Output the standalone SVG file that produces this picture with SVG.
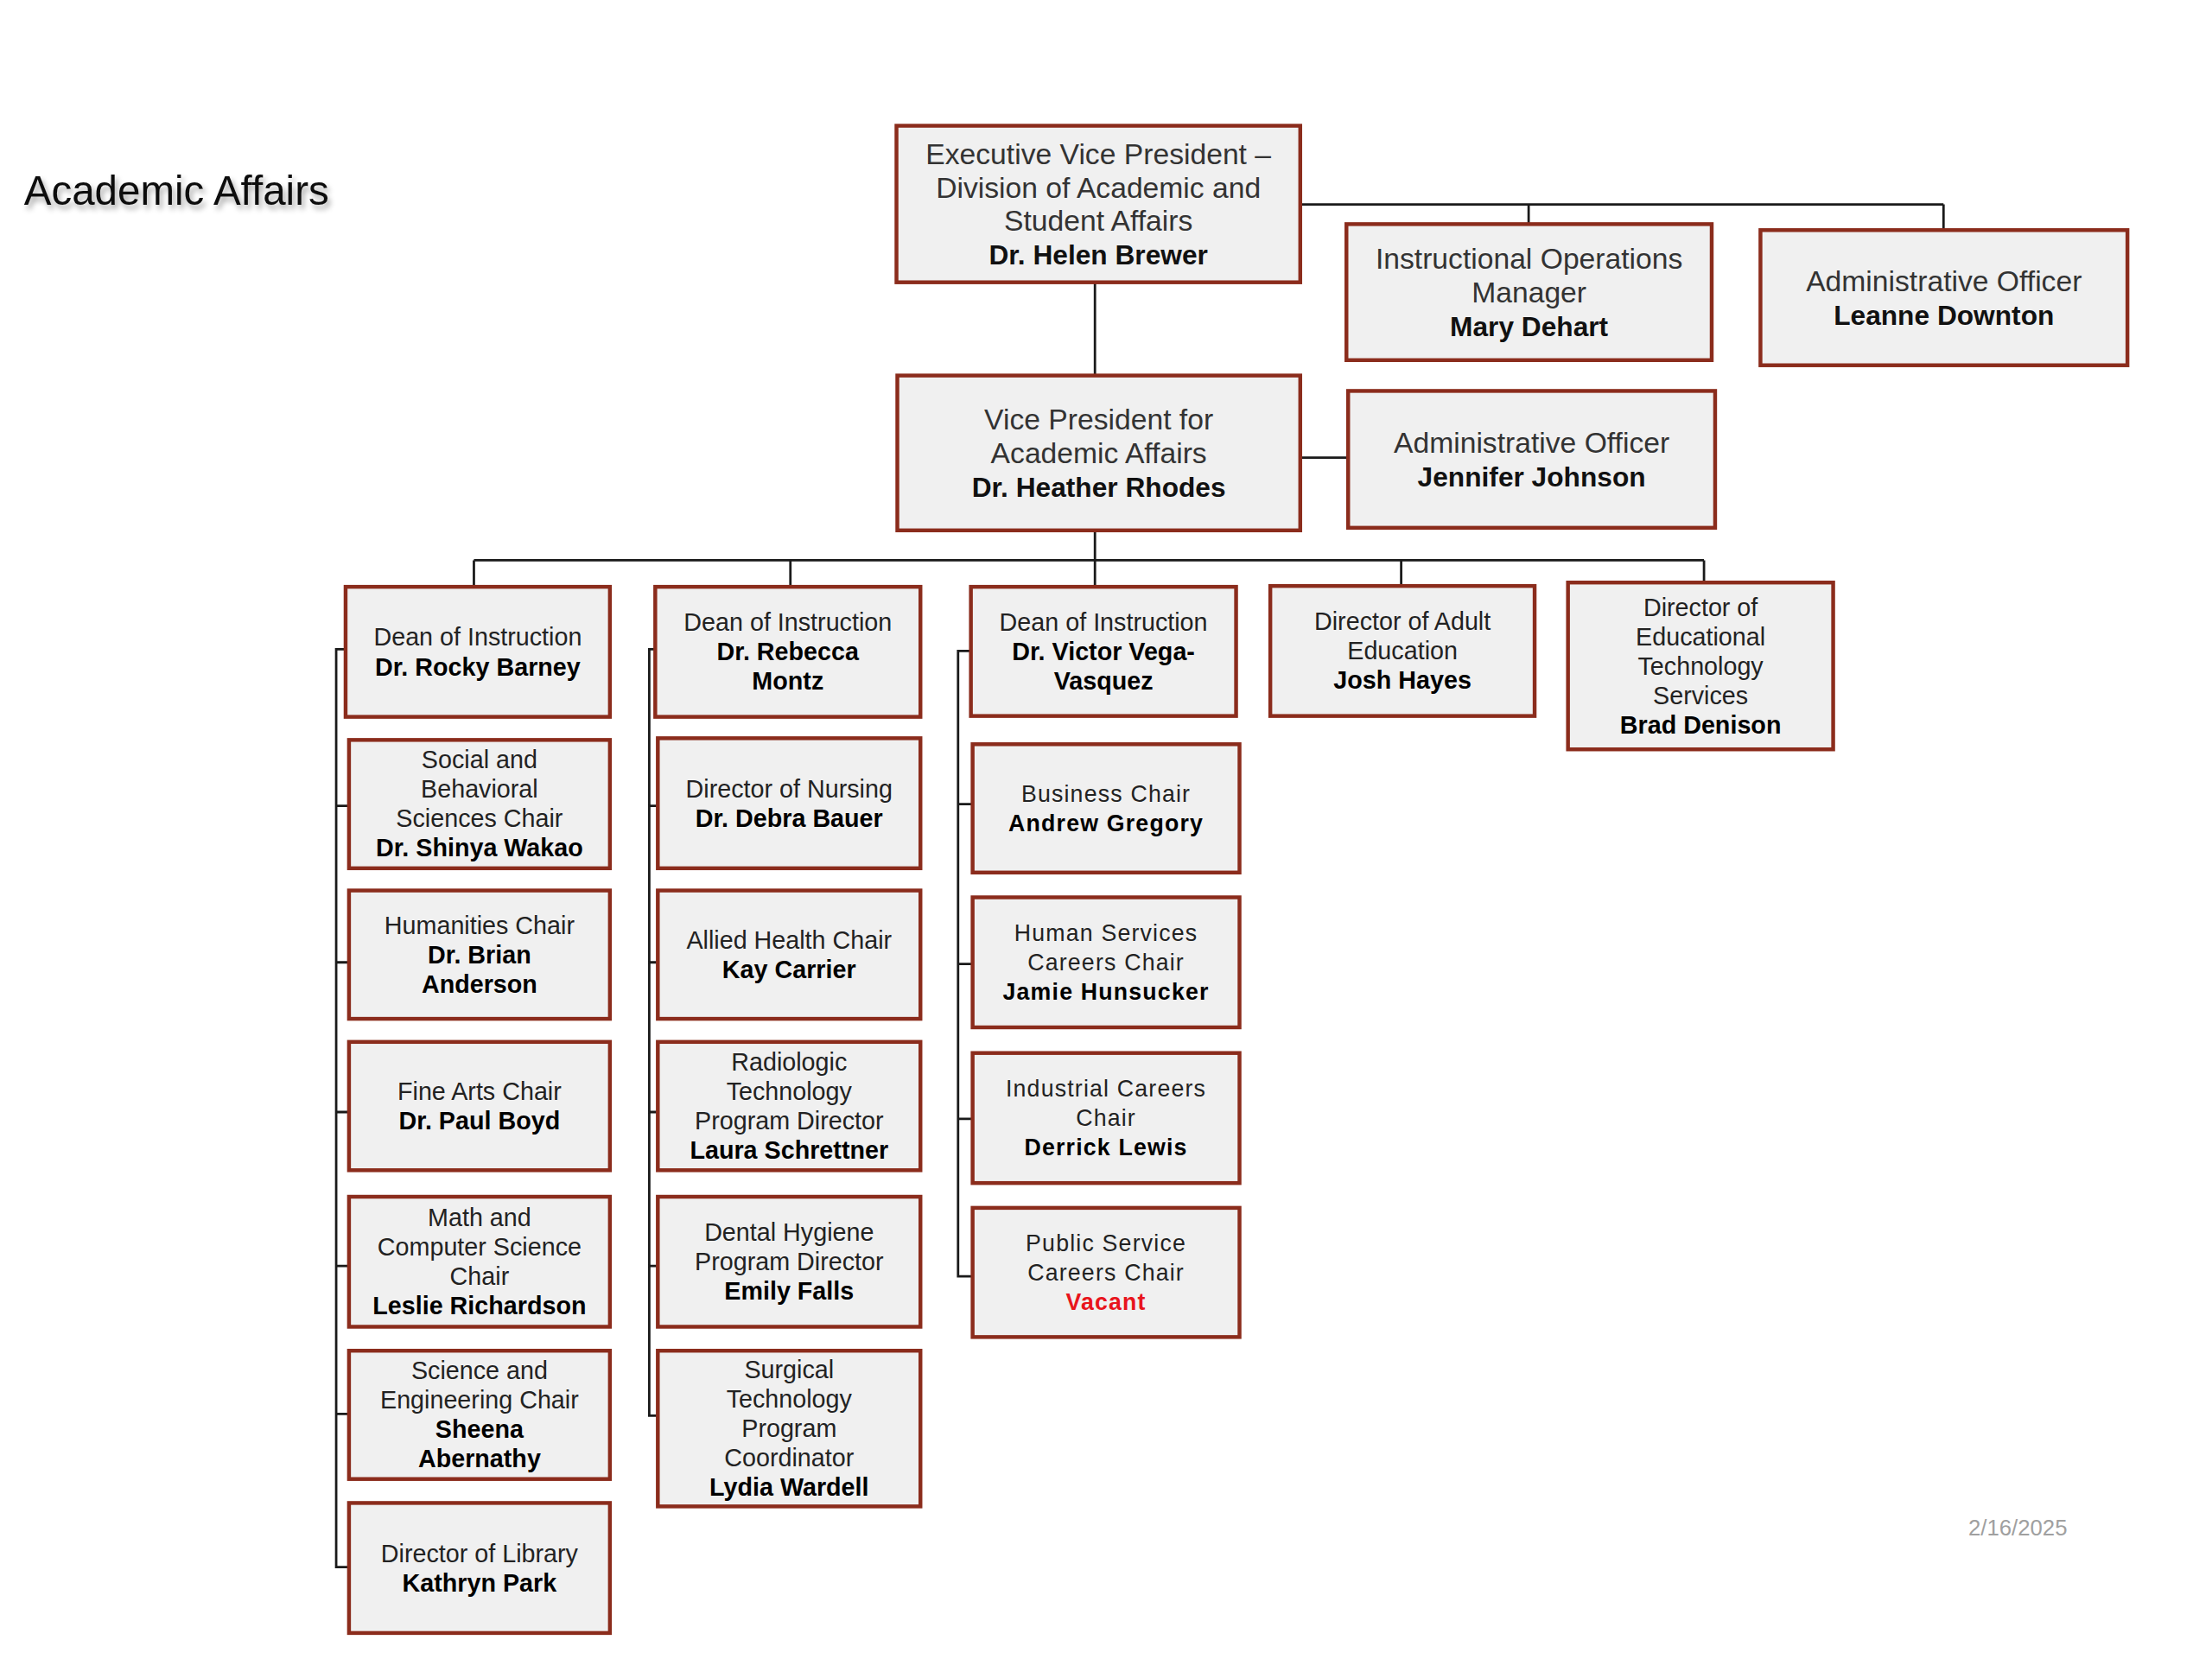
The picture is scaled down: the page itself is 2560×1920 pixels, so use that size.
<svg xmlns="http://www.w3.org/2000/svg" width="2560" height="1920" viewBox="0 0 2560 1920">
<style>
.box{fill:#f0f0f0;stroke:#8b2c1c;stroke-width:4.5}
text{font-family:"Liberation Sans",Arial,sans-serif;text-anchor:middle}
.g{font-size:34px;fill:#333}
.gb{font-size:32px;font-weight:bold;fill:#111}
.a{font-size:29px;fill:#222}
.ab{font-size:29px;font-weight:bold;fill:#000}
.v{font-size:27px;fill:#222;letter-spacing:1.2px}
.vb{font-size:27px;font-weight:bold;fill:#000;letter-spacing:1.2px}
.red{fill:#e8141c}
.ln{fill:none;stroke:#1a1a1a;stroke-width:2.8}
</style>
<defs>
<filter id="sh" x="-5%" y="-20%" width="110%" height="160%">
<feGaussianBlur in="SourceAlpha" stdDeviation="3"/>
<feOffset dx="3" dy="5" result="b"/>
<feFlood flood-color="#000" flood-opacity="0.35"/>
<feComposite in2="b" operator="in"/>
<feMerge><feMergeNode/><feMergeNode in="SourceGraphic"/></feMerge>
</filter>
</defs>
<rect width="2560" height="1920" fill="#fff"/>
<g transform="scale(0.99)">
<text x="28" y="239" style="font-size:48px;fill:#111;text-anchor:start" filter="url(#sh)">Academic Affairs</text>
<text x="2301" y="1795" style="font-size:26px;fill:#a0a0a0;text-anchor:start">2/16/2025</text>

<g id="connectors">
<path class="ln" d="M1520,239 H2272 M1787,239 V262 M2272,239 V269"/>
<path class="ln" d="M1280,330 V439"/>
<path class="ln" d="M1520,535 H1576"/>
<path class="ln" d="M1280,620 V655 M554,655 H1992 M554,655 V686 M924,655 V686 M1280,655 V686 M1638,655 V685 M1992,655 V681"/>
<path class="ln" d="M404,759 H393 V1832 H408 M393,942 H408 M393,1125 H408 M393,1300 H408 M393,1480 H408 M393,1653 H408"/>
<path class="ln" d="M766,759 H759 V1655 H769 M759,942 H769 M759,1125 H769 M759,1300 H769 M759,1480 H769"/>
<path class="ln" d="M1135,761 H1120 V1492 H1137 M1120,940 H1137 M1120,1127 H1137 M1120,1308 H1137"/>
</g>

<g id="evp"><rect class="box" x="1048" y="147" width="472" height="183"/>
<text x="1284" y="192" class="g">Executive Vice President –</text>
<text x="1284" y="231" class="g">Division of Academic and</text>
<text x="1284" y="270" class="g">Student Affairs</text>
<text x="1284" y="309" class="gb">Dr. Helen Brewer</text></g>

<g id="mary"><rect class="box" x="1574" y="262" width="427" height="159"/>
<text x="1787.5" y="314.5" class="g">Instructional Operations</text>
<text x="1787.5" y="353.5" class="g">Manager</text>
<text x="1787.5" y="392.5" class="gb">Mary Dehart</text></g>

<g id="leanne"><rect class="box" x="2058" y="269" width="429" height="158"/>
<text x="2272.5" y="340.5" class="g">Administrative Officer</text>
<text x="2272.5" y="379.5" class="gb">Leanne Downton</text></g>

<g id="vp"><rect class="box" x="1049" y="439" width="471" height="181"/>
<text x="1284.5" y="502.5" class="g">Vice President for</text>
<text x="1284.5" y="541.5" class="g">Academic Affairs</text>
<text x="1284.5" y="580.5" class="gb">Dr. Heather Rhodes</text></g>

<g id="jennifer"><rect class="box" x="1576" y="457" width="429" height="160"/>
<text x="1790.5" y="529.5" class="g">Administrative Officer</text>
<text x="1790.5" y="568.5" class="gb">Jennifer Johnson</text></g>

<g id="rocky"><rect class="box" x="404" y="686" width="309" height="152"/>
<text x="558.5" y="755" class="a">Dean of Instruction</text>
<text x="558.5" y="789.5" class="ab">Dr. Rocky Barney</text></g>

<g id="rebecca"><rect class="box" x="766" y="686" width="310" height="152"/>
<text x="921" y="737.5" class="a">Dean of Instruction</text>
<text x="921" y="772" class="ab">Dr. Rebecca</text>
<text x="921" y="806.5" class="ab">Montz</text></g>

<g id="victor"><rect class="box" x="1135" y="686" width="310" height="151"/>
<text x="1290" y="737" class="a">Dean of Instruction</text>
<text x="1290" y="771.5" class="ab">Dr. Victor Vega-</text>
<text x="1290" y="806" class="ab">Vasquez</text></g>

<g id="adulted"><rect class="box" x="1485" y="685" width="309" height="152"/>
<text x="1639.5" y="736.5" class="a">Director of Adult</text>
<text x="1639.5" y="771" class="a">Education</text>
<text x="1639.5" y="805.5" class="ab">Josh Hayes</text></g>

<g id="edtech"><rect class="box" x="1833" y="681" width="310" height="195"/>
<text x="1988" y="720" class="a">Director of</text>
<text x="1988" y="754.5" class="a">Educational</text>
<text x="1988" y="789" class="a">Technology</text>
<text x="1988" y="823.5" class="a">Services</text>
<text x="1988" y="858" class="ab">Brad Denison</text></g>

<g id="social"><rect class="box" x="408" y="865" width="305" height="150"/>
<text x="560.5" y="898" class="a">Social and</text>
<text x="560.5" y="932.5" class="a">Behavioral</text>
<text x="560.5" y="967" class="a">Sciences Chair</text>
<text x="560.5" y="1001.5" class="ab">Dr. Shinya Wakao</text></g>

<g id="humanities"><rect class="box" x="408" y="1041" width="305" height="150"/>
<text x="560.5" y="1091.5" class="a">Humanities Chair</text>
<text x="560.5" y="1126" class="ab">Dr. Brian</text>
<text x="560.5" y="1160.5" class="ab">Anderson</text></g>

<g id="finearts"><rect class="box" x="408" y="1218" width="305" height="150"/>
<text x="560.5" y="1286" class="a">Fine Arts Chair</text>
<text x="560.5" y="1320.5" class="ab">Dr. Paul Boyd</text></g>

<g id="math"><rect class="box" x="408" y="1399" width="305" height="152"/>
<text x="560.5" y="1433" class="a">Math and</text>
<text x="560.5" y="1467.5" class="a">Computer Science</text>
<text x="560.5" y="1502" class="a">Chair</text>
<text x="560.5" y="1536.5" class="ab">Leslie Richardson</text></g>

<g id="science"><rect class="box" x="408" y="1579" width="305" height="150"/>
<text x="560.5" y="1612" class="a">Science and</text>
<text x="560.5" y="1646.5" class="a">Engineering Chair</text>
<text x="560.5" y="1681" class="ab">Sheena</text>
<text x="560.5" y="1715.5" class="ab">Abernathy</text></g>

<g id="library"><rect class="box" x="408" y="1757" width="305" height="152"/>
<text x="560.5" y="1826" class="a">Director of Library</text>
<text x="560.5" y="1860.5" class="ab">Kathryn Park</text></g>

<g id="nursing"><rect class="box" x="769" y="863" width="307" height="152"/>
<text x="922.5" y="932" class="a">Director of Nursing</text>
<text x="922.5" y="966.5" class="ab">Dr. Debra Bauer</text></g>

<g id="allied"><rect class="box" x="769" y="1041" width="307" height="150"/>
<text x="922.5" y="1109" class="a">Allied Health Chair</text>
<text x="922.5" y="1143.5" class="ab">Kay Carrier</text></g>

<g id="radiologic"><rect class="box" x="769" y="1218" width="307" height="150"/>
<text x="922.5" y="1251.5" class="a">Radiologic</text>
<text x="922.5" y="1286" class="a">Technology</text>
<text x="922.5" y="1320.5" class="a">Program Director</text>
<text x="922.5" y="1355" class="ab">Laura Schrettner</text></g>

<g id="dental"><rect class="box" x="769" y="1399" width="307" height="152"/>
<text x="922.5" y="1450.5" class="a">Dental Hygiene</text>
<text x="922.5" y="1485" class="a">Program Director</text>
<text x="922.5" y="1519.5" class="ab">Emily Falls</text></g>

<g id="surgical"><rect class="box" x="769" y="1579" width="307" height="182"/>
<text x="922.5" y="1611" class="a">Surgical</text>
<text x="922.5" y="1645.5" class="a">Technology</text>
<text x="922.5" y="1680" class="a">Program</text>
<text x="922.5" y="1714.5" class="a">Coordinator</text>
<text x="922.5" y="1749" class="ab">Lydia Wardell</text></g>

<g id="business"><rect class="box" x="1137" y="870" width="312" height="150"/>
<text x="1293" y="937" class="v">Business Chair</text>
<text x="1293" y="971.5" class="vb">Andrew Gregory</text></g>

<g id="humanservices"><rect class="box" x="1137" y="1049" width="312" height="152"/>
<text x="1293" y="1100" class="v">Human Services</text>
<text x="1293" y="1134.5" class="v">Careers Chair</text>
<text x="1293" y="1169" class="vb">Jamie Hunsucker</text></g>

<g id="industrial"><rect class="box" x="1137" y="1231" width="312" height="152"/>
<text x="1293" y="1282" class="v">Industrial Careers</text>
<text x="1293" y="1316.5" class="v">Chair</text>
<text x="1293" y="1351" class="vb">Derrick Lewis</text></g>

<g id="publicservice"><rect class="box" x="1137" y="1412" width="312" height="151"/>
<text x="1293" y="1462.5" class="v">Public Service</text>
<text x="1293" y="1497" class="v">Careers Chair</text>
<text x="1293" y="1531.5" class="vb red">Vacant</text></g>
</g>
</svg>
